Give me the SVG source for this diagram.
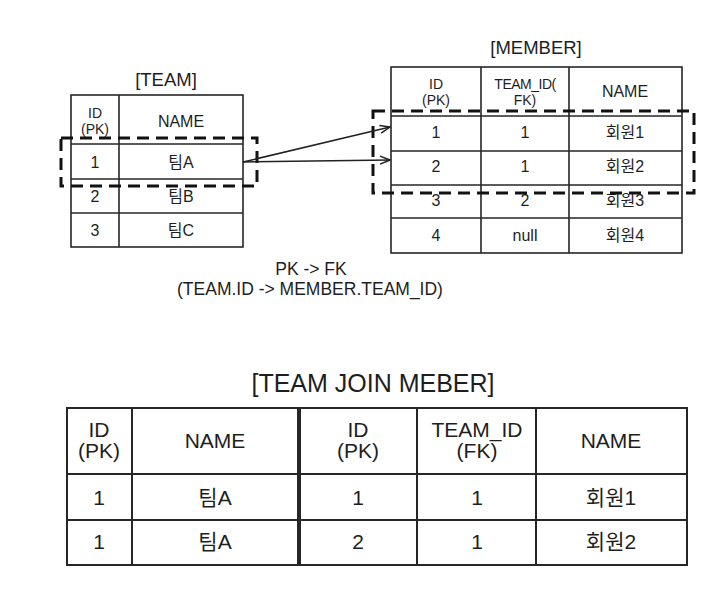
<svg xmlns="http://www.w3.org/2000/svg" width="728" height="598" viewBox="0 0 728 598">
  <style>
    text { font-family: "Liberation Sans", "Noto Sans CJK KR", Arial, sans-serif; fill: #1e1e1e; text-anchor: middle; }
    .title { font-size: 18.5px; }
    .big-title { font-size: 25px; }
    .cell { font-size: 16px; }
    .hdr { font-size: 14px; }
    .bcell { font-size: 21px; }
    .note { font-size: 17.5px; }
    .grid { fill: none; stroke: #262626; stroke-width: 1.6; }
    .bgrid { fill: none; stroke: #262626; stroke-width: 2; }
    .dash { fill: none; stroke: #111; stroke-width: 3; stroke-dasharray: 12 7; }
    .link { fill: none; stroke: #222; stroke-width: 1.5; marker-end: url(#open); }
  </style>
  <defs>
    <marker id="open" viewBox="0 0 12 10" refX="11" refY="5" markerWidth="12" markerHeight="10" markerUnits="userSpaceOnUse" orient="auto">
      <path d="M1,1 L11,5 L1,9" fill="none" stroke="#222" stroke-width="1.5"/>
    </marker>
  </defs>
  <rect width="728" height="598" fill="#ffffff"/>

  <!-- TEAM table -->
  <g id="team">
    <text class="title" x="166" y="86">[TEAM]</text>
    <rect class="grid" x="71" y="95" width="172" height="152"/>
    <path class="grid" d="M119,95 V247 M71,144 H243 M71,179 H243 M71,213 H243"/>
    <text class="hdr" x="95" y="117.5">ID</text>
    <text class="hdr" x="95" y="133.5">(PK)</text>
    <text class="cell" x="181" y="127">NAME</text>
    <text class="cell" x="95" y="168">1</text>
    <text class="cell" x="181" y="168">팀A</text>
    <text class="cell" x="95" y="202">2</text>
    <text class="cell" x="181" y="202">팀B</text>
    <text class="cell" x="95" y="236">3</text>
    <text class="cell" x="181" y="236">팀C</text>
  </g>

  <!-- MEMBER table -->
  <g id="member">
    <text class="title" x="536" y="54">[MEMBER]</text>
    <rect class="grid" x="391" y="67" width="291" height="186"/>
    <path class="grid" d="M481,67 V253 M569,67 V253 M391,116 H682 M391,151 H682 M391,185 H682 M391,218 H682"/>
    <text class="hdr" x="436" y="88.5">ID</text>
    <text class="hdr" x="436" y="104.5">(PK)</text>
    <text class="hdr" x="525" y="88.5" letter-spacing="-0.5">TEAM_ID(</text>
    <text class="hdr" x="525" y="104.5">FK)</text>
    <text class="cell" x="625" y="97">NAME</text>
    <text class="cell" x="436" y="138">1</text>
    <text class="cell" x="525" y="138">1</text>
    <text class="cell" x="625" y="138">회원1</text>
    <text class="cell" x="436" y="172">2</text>
    <text class="cell" x="525" y="172">1</text>
    <text class="cell" x="625" y="172">회원2</text>
    <text class="cell" x="436" y="206">3</text>
    <text class="cell" x="525" y="206">2</text>
    <text class="cell" x="625" y="206">회원3</text>
    <text class="cell" x="436" y="241">4</text>
    <text class="cell" x="525" y="241">null</text>
    <text class="cell" x="625" y="241">회원4</text>
  </g>

  <!-- dashed highlight boxes over the joined rows -->
  <g id="highlights">
    <rect class="dash" x="61" y="138" width="196" height="48"/>
    <rect class="dash" x="373" y="111" width="321" height="82"/>
  </g>

  <!-- PK to FK references -->
  <g id="connectors">
    <line class="link" x1="243" y1="162" x2="390" y2="127"/>
    <line class="link" x1="243" y1="162" x2="390" y2="160"/>
  </g>

  <g id="relation-note">
    <text class="note" x="311" y="275">PK -&gt; FK</text>
    <text class="note" x="310" y="295">(TEAM.ID -&gt; MEMBER.TEAM_ID)</text>
  </g>

  <!-- joined result -->
  <g id="join-result">
    <text class="big-title" x="373" y="392">[TEAM JOIN MEBER]</text>
    <rect class="bgrid" x="67" y="408" width="231" height="157"/>
    <rect class="bgrid" x="300" y="408" width="387" height="157"/>
    <path class="bgrid" d="M132,408 V565 M417,408 V565 M536,408 V565 M67,474 H687 M67,520 H687"/>
    <text class="bcell" x="99" y="437">ID</text>
    <text class="bcell" x="99" y="458">(PK)</text>
    <text class="bcell" x="215" y="448">NAME</text>
    <text class="bcell" x="358" y="437">ID</text>
    <text class="bcell" x="358" y="458">(PK)</text>
    <text class="bcell" x="477" y="437">TEAM_ID</text>
    <text class="bcell" x="477" y="458">(FK)</text>
    <text class="bcell" x="611" y="448">NAME</text>
    <text class="bcell" x="99" y="505">1</text>
    <text class="bcell" x="215" y="505">팀A</text>
    <text class="bcell" x="358" y="505">1</text>
    <text class="bcell" x="477" y="505">1</text>
    <text class="bcell" x="611" y="505">회원1</text>
    <text class="bcell" x="99" y="549">1</text>
    <text class="bcell" x="215" y="549">팀A</text>
    <text class="bcell" x="358" y="549">2</text>
    <text class="bcell" x="477" y="549">1</text>
    <text class="bcell" x="611" y="549">회원2</text>
  </g>
</svg>
